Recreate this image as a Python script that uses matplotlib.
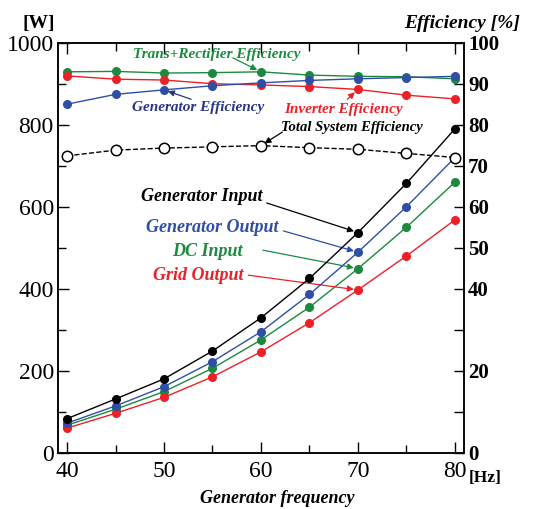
import matplotlib
matplotlib.use("Agg")
import matplotlib.pyplot as plt
from matplotlib.ticker import MultipleLocator, FixedLocator

# generator frequency [Hz]
freq = [40, 45, 50, 55, 60, 65, 70, 75, 80]

# power [W]
gen_input = [83, 131, 180, 248, 329, 425, 537, 657, 790]
gen_output = [72, 114, 161, 222, 295, 386, 489, 600, 720]
dc_input = [67, 106, 149, 206, 275, 355, 449, 550, 660]
grid_output = [60, 96, 135, 185, 246, 317, 397, 480, 568]

# efficiency [%]
trans_rect_eff = [92.9, 93.0, 92.6, 92.7, 92.9, 92.1, 91.8, 91.7, 91.2]
inverter_eff = [91.9, 91.1, 90.9, 90.0, 89.7, 89.3, 88.6, 87.2, 86.3]
generator_eff = [85.0, 87.4, 88.5, 89.5, 90.2, 90.8, 91.2, 91.5, 91.8]
total_eff = [72.4, 73.8, 74.3, 74.6, 74.9, 74.4, 74.0, 73.0, 72.0]

right_ticks = [0, 20, 40, 50, 60, 70, 80, 90, 100]

BLACK = "#000000"
BLUE = "#2f4fa6"
NAVY = "#2a3588"
GREEN = "#1b8a3e"
RED = "#ec2027"

plt.rcParams["font.family"] = ["Liberation Serif", "DejaVu Serif"]

fig = plt.figure(figsize=(5.4, 5.09), dpi=100)
ax = fig.add_axes([0.1074, 0.1106, 0.7518, 0.8055])
ax2 = ax.twinx()

# power curves
ms = 5.5
ax.plot(freq, gen_input, "-o", color=BLACK, lw=1, ms=ms, zorder=5)
ax.plot(freq, gen_output, "-o", color=BLUE, lw=1, ms=ms, zorder=4)
ax.plot(freq, dc_input, "-o", color=GREEN, lw=1, ms=ms, zorder=3)
ax.plot(freq, grid_output, "-o", color=RED, lw=1, ms=ms, zorder=3)

# efficiency curves
ax2.plot(freq, trans_rect_eff, "-o", color=GREEN, lw=1, ms=ms)
ax2.plot(freq, inverter_eff, "-o", color=RED, lw=1, ms=ms)
ax2.plot(freq, generator_eff, "-o", color=BLUE, lw=1, ms=ms)
ax2.plot(freq, total_eff, "--o", color=BLACK, lw=1, ms=7.5,
         markerfacecolor="white", markeredgewidth=1.1, zorder=6)

ax.set_xlim(39.07, 80.93)
ax.set_ylim(0, 1000)
ax2.set_ylim(0, 100)

ax.xaxis.set_major_locator(MultipleLocator(10))
ax.xaxis.set_minor_locator(MultipleLocator(5))
ax.yaxis.set_major_locator(MultipleLocator(200))
ax.yaxis.set_minor_locator(MultipleLocator(100))
ax.xaxis.set_ticks_position("both")
ax.tick_params(which="both", direction="in", top=True, right=False,
               width=1, labelsize=17)
ax.tick_params(which="major", length=8, pad=3)
ax.tick_params(axis="x", which="major", pad=6)
ax.tick_params(which="minor", length=6)

ax2.yaxis.set_major_locator(FixedLocator(right_ticks))
ax2.yaxis.set_minor_locator(MultipleLocator(10))
ax2.tick_params(axis="y", which="both", direction="in", length=7, width=1,
                pad=3)
for lab in ax2.get_yticklabels():
    lab.set_fontweight("bold")
    lab.set_fontsize(15)

for s in ["left", "right", "top", "bottom"]:
    ax.spines[s].set_linewidth(1.1)
    ax2.spines[s].set_linewidth(1.1)

# axis titles
fig.text(0.071, 0.945, "[W]", fontsize=14, fontweight="bold", ha="center")
fig.text(0.963, 0.945, "Efficiency [%]", fontsize=14, fontweight="bold",
         style="italic", ha="right")
fig.text(0.898, 0.053, "[Hz]", fontsize=12.5, fontweight="bold",
         ha="center")
fig.text(0.514, 0.012, "Generator frequency", fontsize=13,
         fontweight="bold", style="italic", ha="center")

arrow = dict(arrowstyle="-|>", lw=0.9, mutation_scale=9,
             shrinkA=0, shrinkB=3)


def label(axis, text, color, txy, tail, head, size):
    axis.text(txy[0], txy[1], text, color=color, fontsize=size,
              fontweight="bold", style="italic", ha="center", va="center")
    axis.annotate("", xy=head, xytext=tail,
                  arrowprops=dict(arrow, color=color))


# efficiency labels (right axis coordinates)
label(ax2, "Trans+Rectifier Efficiency", GREEN, (55.4, 97.2), (57.1, 96.3),
      (freq[4], trans_rect_eff[4]), 11)
label(ax2, "Generator Efficiency", NAVY, (53.5, 84.3), (52.8, 86.2),
      (freq[2], generator_eff[2]), 11)
label(ax2, "Inverter Efficiency", RED, (68.5, 83.6), (68.9, 86.2),
      (freq[6], inverter_eff[6]), 11)
label(ax2, "Total System Efficiency", BLACK, (69.4, 79.2), (62.2, 78.2),
      (freq[4], total_eff[4]), 10.5)

# power labels (left axis coordinates)
label(ax, "Generator Input", BLACK, (53.9, 626), (60.6, 609),
      (freq[6], gen_input[6]), 13)
label(ax, "Generator Output", BLUE, (55.0, 550), (62.3, 541),
      (freq[6], gen_output[6]), 13)
label(ax, "DC Input", GREEN, (54.5, 491), (60.2, 494),
      (freq[6], dc_input[6]), 13)
label(ax, "Grid Output", RED, (53.5, 431), (58.7, 433),
      (freq[6], grid_output[6]), 13)

fig.savefig("out.png", dpi=100)

# sanity check: is there a top tick at 45 Hz?
img = plt.imread("out.png")
col = img[44:52, 114:119, :3].min()
if col > 0.5:
    raise SystemExit("top tick missing, min=%.2f" % col)
